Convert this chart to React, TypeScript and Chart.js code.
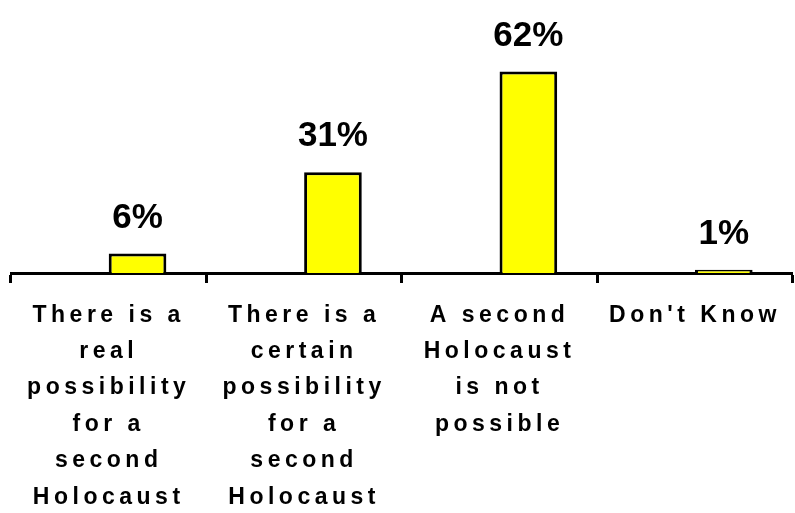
import React, { useEffect, useRef } from "react";
import { Chart, registerables } from "chart.js";

Chart.register(...registerables);

const categories: string[][] = [
  ["There is a", "real", "possibility", "for a", "second", "Holocaust"],
  ["There is a", "certain", "possibility", "for a", "second", "Holocaust"],
  ["A second", "Holocaust", "is not", "possible"],
  ["Don't Know"],
];
const spacerSeries: (number | null)[] = [null, null, null, null];
const values: number[] = [6, 31, 62, 1];
const valueLabels: string[] = ["6%", "31%", "62%", "1%"];

const FONT = "'Liberation Sans', Arial, Helvetica, sans-serif";
const SPACING = "4.5px";

const spacingPlugin = {
  id: "spacing",
  beforeLayout(chart: any) {
    chart.ctx.letterSpacing = SPACING;
  },
  beforeDraw(chart: any) {
    chart.ctx.letterSpacing = SPACING;
  },
  afterDatasetsDraw(chart: any) {
    const ctx = chart.ctx;
    const meta = chart.getDatasetMeta(1);
    ctx.save();
    ctx.letterSpacing = "0px";
    ctx.font = `bold 35px ${FONT}`;
    ctx.fillStyle = "#000";
    ctx.textAlign = "center";
    ctx.textBaseline = "alphabetic";
    meta.data.forEach((bar: any, i: number) => {
      ctx.fillText(valueLabels[i], bar.x, bar.y - 26);
    });
    ctx.restore();
  },
};

export default function App() {
  const ref = useRef<HTMLCanvasElement | null>(null);
  useEffect(() => {
    if (!ref.current) return;
    const chart = new Chart(ref.current, {
      type: "bar",
      data: {
        labels: categories,
        datasets: [
          {
            data: spacerSeries,
            backgroundColor: "#FFFF00",
            borderColor: "#000",
            borderWidth: 3,
          },
          {
            data: values,
            backgroundColor: "#FFFF00",
            borderColor: "#000",
            borderWidth: 3,
          },
        ],
      },
      options: {
        responsive: false,
        animation: false,
        categoryPercentage: 0.59,
        barPercentage: 1,
        layout: { padding: { left: 11, right: 1, top: 13, bottom: 0 } },
        plugins: { legend: { display: false }, tooltip: { enabled: false } },
        scales: {
          x: {
            afterFit(scale: any) {
              scale.height = 240;
            },
            grid: {
              display: true,
              drawOnChartArea: false,
              drawTicks: true,
              tickLength: 10,
              tickWidth: 3,
              tickColor: "#000",
              offset: true,
            },
            border: { display: true, color: "#000", width: 3 },
            ticks: {
              color: "#000",
              maxRotation: 0,
              minRotation: 0,
              autoSkip: false,
              padding: 14,
              font: { family: FONT, size: 23, weight: "bold", lineHeight: 1.583 },
            },
          },
          y: {
            display: false,
            min: 0,
            max: 80,
          },
        },
      },
      plugins: [spacingPlugin],
    } as any);
    return () => chart.destroy();
  }, []);
  return (
    <div style={{ position: "fixed", left: 0, top: 0, width: 795, height: 513, background: "#fff" }}>
      <canvas ref={ref} width={795} height={513} style={{ display: "block" }} />
    </div>
  );
}
